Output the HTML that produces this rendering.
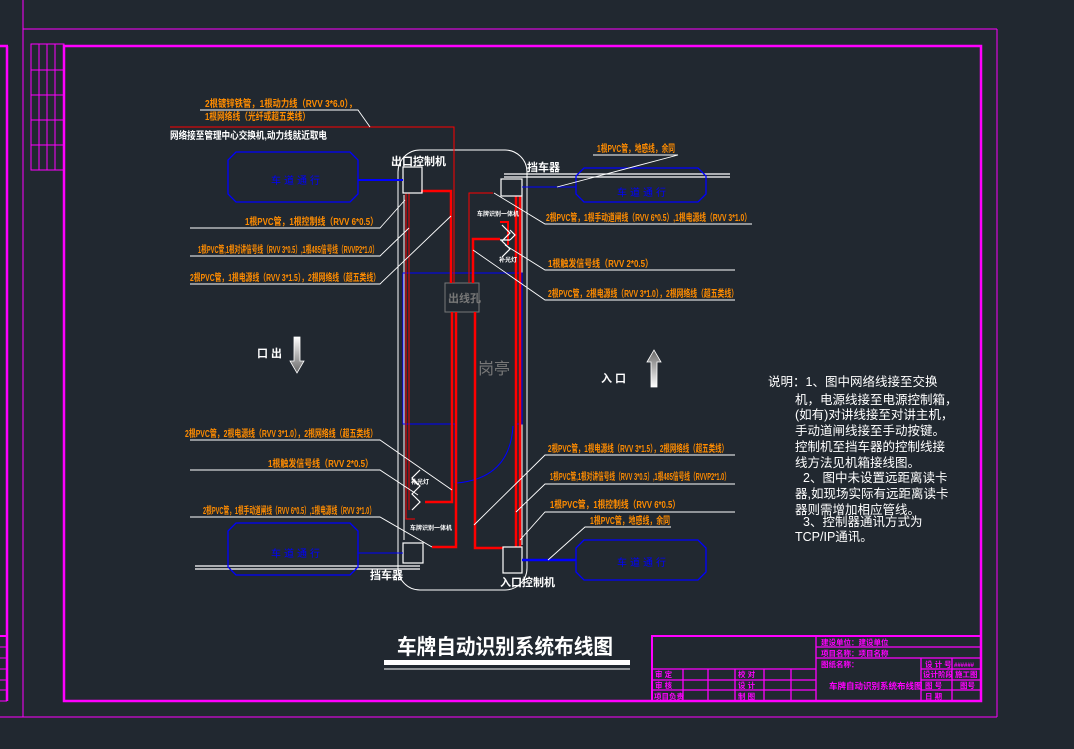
<!DOCTYPE html>
<html><head><meta charset="utf-8">
<style>
html,body{margin:0;padding:0;background:#212830;}
svg{display:block;}
text{font-family:"Liberation Sans","Noto Sans CJK SC","WenQuanYi Zen Hei",sans-serif;}
.o{fill:#ff8c00;font-size:10px;font-weight:bold;}
.w{fill:#fff;font-size:11px;font-weight:bold;}
.m{fill:#ff00ff;font-size:7.5px;font-weight:bold;}
.b{fill:#0000ff;font-size:10px;}
</style></head><body>
<svg width="1074" height="749" viewBox="0 0 1074 749" xmlns="http://www.w3.org/2000/svg">
<rect width="1074" height="749" fill="#212830"/>
<g stroke="#ff00ff" fill="none">
<line x1="0" y1="46" x2="8" y2="46" stroke-width="2.5"/>
<line x1="7" y1="46" x2="7" y2="701" stroke-width="2.5"/>
<g stroke-width="1"><line x1="0" y1="647" x2="7" y2="647"/><line x1="0" y1="658" x2="7" y2="658"/><line x1="0" y1="669" x2="7" y2="669"/><line x1="0" y1="680" x2="7" y2="680"/><line x1="0" y1="690" x2="7" y2="690"/><line x1="0" y1="701" x2="7" y2="701"/></g>
<line x1="0" y1="636" x2="7" y2="636" stroke-width="2"/>
<line x1="23" y1="0" x2="23" y2="717" stroke-width="1"/>
<line x1="0" y1="717" x2="997" y2="717" stroke-width="1"/>
<line x1="997" y1="29" x2="997" y2="717" stroke-width="1"/>
<line x1="23" y1="29" x2="997" y2="29" stroke-width="1"/>
<rect x="64" y="46" width="917" height="655" stroke-width="2.5"/>
<g stroke-width="1">
<rect x="31" y="44" width="33" height="126"/>
<line x1="39" y1="44" x2="39" y2="170"/><line x1="47" y1="44" x2="47" y2="170"/><line x1="55" y1="44" x2="55" y2="170"/>
<line x1="31" y1="70" x2="64" y2="70"/><line x1="31" y1="95" x2="64" y2="95"/><line x1="31" y1="120" x2="64" y2="120"/><line x1="31" y1="145" x2="64" y2="145"/>
</g>
<rect x="652" y="636" width="329" height="65" stroke-width="2"/>
<g stroke-width="1.3">
<line x1="816" y1="636" x2="816" y2="701"/>
<line x1="816" y1="647" x2="981" y2="647"/><line x1="816" y1="658" x2="981" y2="658"/>
<line x1="652" y1="669" x2="816" y2="669"/><line x1="652" y1="680" x2="816" y2="680"/><line x1="652" y1="690" x2="816" y2="690"/>
<line x1="683" y1="669" x2="683" y2="701"/><line x1="708" y1="669" x2="708" y2="701"/><line x1="735" y1="669" x2="735" y2="701"/><line x1="764" y1="669" x2="764" y2="701"/><line x1="791" y1="669" x2="791" y2="701"/>
<line x1="921" y1="658" x2="921" y2="701"/><line x1="952" y1="658" x2="952" y2="701"/>
<line x1="921" y1="669" x2="981" y2="669"/><line x1="921" y1="680" x2="981" y2="680"/><line x1="921" y1="690" x2="981" y2="690"/>
</g>
</g>
<g class="m">
<text x="821" y="645">建设单位：建设单位</text>
<text x="821" y="656">项目名称：项目名称</text>
<text x="821" y="667">图纸名称：</text>
<text x="829" y="689" style="font-size:8.5px">车牌自动识别系统布线图</text>
<text x="925" y="667">设 计 号</text><text x="954" y="667" style="font-size:6px">######</text>
<text x="923" y="677">设计阶段</text><text x="955" y="677">施工图</text>
<text x="925" y="688">图 号</text><text x="960" y="688">图号</text>
<text x="925" y="699">日 期</text>
<text x="655" y="677">审 定</text><text x="655" y="688">审 核</text><text x="654" y="699">项目负责</text>
<text x="738" y="677">校 对</text><text x="738" y="688">设 计</text><text x="738" y="699">制 图</text>
</g>

<g fill="none" stroke="#fff" stroke-width="1">
<rect x="398" y="150" width="129" height="440" rx="22"/>
<line x1="404" y1="195" x2="404" y2="540"/>
<line x1="522" y1="196" x2="522" y2="545"/>
</g>
<g fill="none" stroke="#0000ff" stroke-width="1">
<polyline points="455,424 403,424 403,273 522,273 522,424 515,424"/>
<line x1="455" y1="424" x2="455" y2="483"/>
<path d="M457,483 Q510,478 513,426"/>
</g>
<rect x="445" y="283" width="34" height="29" fill="none" stroke="#777" stroke-width="1"/>
<text x="448" y="302" fill="#777" font-size="11" font-weight="bold">出线孔</text>
<text x="478" y="374" fill="#777" font-size="16">岗亭</text>

<g fill="none" stroke="#ff0000">
<polyline points="170,127 454,127 454,283" stroke-width="1"/>
<polyline points="421,191 451,191 451,283" stroke-width="2.5"/>
<polyline points="452,312 452,502 425,502" stroke-width="2.5"/>
<polyline points="456,312 456,547 432,547" stroke-width="2.5"/>
<polyline points="406,193 406,519 415,519" stroke-width="1"/>
<polyline points="409,193 409,510" stroke-width="1"/>
<polyline points="469,283 469,193 493,193" stroke-width="1"/>
<polyline points="473,283 473,239 500,239" stroke-width="2.5"/>
<polyline points="475,312 475,548 503,548" stroke-width="2.5"/>
<polyline points="516,547 516,196" stroke-width="2.5"/>
<polyline points="520,547 520,196" stroke-width="2.5"/>
<polyline points="500,222 508,222 508,245" stroke-width="2"/>
</g>

<g fill="none" stroke="#fff" stroke-width="1.2">
<rect x="403" y="167" width="19" height="26"/>
<rect x="501" y="179" width="21" height="17"/>
<line x1="504" y1="174" x2="730" y2="174"/><line x1="504" y1="177" x2="730" y2="177"/>
<rect x="403" y="543" width="20" height="20"/>
<line x1="195" y1="566" x2="420" y2="566"/><line x1="195" y1="569" x2="420" y2="569"/>
<rect x="503" y="547" width="19" height="26"/>
<path d="M502,225 l8,8 l-8,8 l8,8 l-8,8 M510,230 l5,5 l-5,5 M500,240 l10,0"/>
<path d="M420,470 l-8,8 l8,8 l-8,8 l8,8 l-8,8 M413,480 l5,5"/>
</g>
<text x="527" y="171" class="w">挡车器</text>
<text x="370" y="579" class="w">挡车器</text>
<text x="391" y="165" class="w">出口控制机</text>
<text x="500" y="586" class="w">入口控制机</text>
<text x="477" y="216" fill="#fff" font-weight="bold" style="font-size:6px">车牌识别一体机</text>
<text x="499" y="262" fill="#fff" font-weight="bold" style="font-size:6px">补光灯</text>
<text x="411" y="484" fill="#fff" font-weight="bold" style="font-size:6px">补光灯</text>
<text x="410" y="530" fill="#fff" font-weight="bold" style="font-size:6px">车牌识别一体机</text>

<g fill="none" stroke="#0000ff" stroke-width="1.3">
<polygon points="236,152 350,152 358,160 358,194 350,202 236,202 228,194 228,160"/>
<polygon points="584,168 698,168 706,176 706,194 698,202 584,202 576,194 576,176"/>
<polygon points="236,523 350,523 358,531 358,567 350,575 236,575 228,567 228,531"/>
<polygon points="584,540 698,540 706,548 706,572 698,580 584,580 576,572 576,548"/>
<line x1="358" y1="180" x2="403" y2="180" stroke-width="2"/>
<line x1="522" y1="187" x2="576" y2="187" stroke-width="1"/>
<line x1="358" y1="553" x2="403" y2="553" stroke-width="1"/>
<line x1="522" y1="560" x2="576" y2="560" stroke-width="2.5"/>
</g>
<text x="271" y="184" class="b" letter-spacing="3">车道通行</text>
<text x="617" y="196" class="b" letter-spacing="3">车道通行</text>
<text x="271" y="557" class="b" letter-spacing="3">车道通行</text>
<text x="617" y="566" class="b" letter-spacing="3">车道通行</text>

<g fill="none" stroke="#fff" stroke-width="0.9">
<polyline points="200,110 358,110 370,127"/>
<polyline points="190,228 380,228 405,200"/>
<polyline points="190,256 380,256 409,228"/>
<polyline points="190,284 380,284 451,216"/>
<polyline points="593,155 678,155 557,187"/>
<polyline points="752,224 545,224 494,193"/>
<polyline points="735,270 545,270 505,245"/>
<polyline points="735,300 545,300 473,250"/>
<polyline points="190,440 380,440 452,490"/>
<polyline points="190,470 380,470 418,495"/>
<polyline points="190,517 380,517 432,547"/>
<polyline points="735,455 545,455 474,525"/>
<polyline points="735,484 545,484 516,512"/>
<polyline points="735,512 545,512 520,540"/>
<polyline points="671,527 585,527 548,560"/>
</g>

<g class="o">
<text x="205" y="107" textLength="152" lengthAdjust="spacingAndGlyphs">2根镀锌铁管，1根动力线（RVV 3*6.0），</text>
<text x="205" y="120" textLength="105" lengthAdjust="spacingAndGlyphs">1根网络线（光纤或超五类线）</text>
<text x="245" y="225" textLength="133" lengthAdjust="spacingAndGlyphs">1根PVC管，1根控制线（RVV 6*0.5）</text>
<text x="198" y="253" textLength="180" lengthAdjust="spacingAndGlyphs">1根PVC管,1根对讲信号线（RVV 3*0.5）,1根485信号线（RVVP2*1.0）</text>
<text x="190" y="281" textLength="190" lengthAdjust="spacingAndGlyphs">2根PVC管，1根电源线（RVV 3*1.5），2根网络线（超五类线）</text>
<text x="597" y="152" textLength="78" lengthAdjust="spacingAndGlyphs">1根PVC管，地感线，余同</text>
<text x="546" y="221" textLength="205" lengthAdjust="spacingAndGlyphs">2根PVC管，1根手动道闸线（RVV 6*0.5）,1根电源线（RVV 3*1.0）</text>
<text x="548" y="267" textLength="105" lengthAdjust="spacingAndGlyphs">1根触发信号线（RVV 2*0.5）</text>
<text x="548" y="297" textLength="190" lengthAdjust="spacingAndGlyphs">2根PVC管，2根电源线（RVV 3*1.0），2根网络线（超五类线）</text>
<text x="185" y="437" textLength="192" lengthAdjust="spacingAndGlyphs">2根PVC管，2根电源线（RVV 3*1.0），2根网络线（超五类线）</text>
<text x="268" y="467" textLength="105" lengthAdjust="spacingAndGlyphs">1根触发信号线（RVV 2*0.5）</text>
<text x="203" y="514" textLength="172" lengthAdjust="spacingAndGlyphs">2根PVC管，1根手动道闸线（RVV 6*0.5）,1根电源线（RVV 3*1.0）</text>
<text x="548" y="452" textLength="180" lengthAdjust="spacingAndGlyphs">2根PVC管，1根电源线（RVV 3*1.5），2根网络线（超五类线）</text>
<text x="550" y="480" textLength="180" lengthAdjust="spacingAndGlyphs">1根PVC管,1根对讲信号线（RVV 3*0.5）,1根485信号线（RVVP2*1.0）</text>
<text x="550" y="508" textLength="130" lengthAdjust="spacingAndGlyphs">1根PVC管，1根控制线（RVV 6*0.5）</text>
<text x="590" y="524" textLength="80" lengthAdjust="spacingAndGlyphs">1根PVC管，地感线，余同</text>
</g>
<text x="170" y="139" class="w" style="font-size:10px" textLength="157" lengthAdjust="spacingAndGlyphs">网络接至管理中心交换机,动力线就近取电</text>

<text x="257" y="357" class="w">口 出</text>
<defs><linearGradient id="g1" x1="0" y1="0" x2="0" y2="1"><stop offset="0" stop-color="#fff"/><stop offset="1" stop-color="#666"/></linearGradient>
<linearGradient id="g2" x1="0" y1="1" x2="0" y2="0"><stop offset="0" stop-color="#fff"/><stop offset="1" stop-color="#666"/></linearGradient></defs>
<polygon points="294,337 300,337 300,361 304,361 297,373 290,361 294,361" fill="url(#g1)" stroke="#fff" stroke-width="0.8"/>
<text x="601" y="382" class="w">入  口</text>
<polygon points="651,387 657,387 657,362 661,362 654,350 647,362 651,362" fill="url(#g2)" stroke="#fff" stroke-width="0.8"/>

<g fill="#fff" font-size="12.5">
<text x="768" y="386">说明：1、图中网络线接至交换</text>
<text x="795" y="404">机，电源线接至电源控制箱，</text>
<text x="795" y="419">(如有)对讲线接至对讲主机，</text>
<text x="795" y="435">手动道闸线接至手动按键。</text>
<text x="795" y="451">控制机至挡车器的控制线接</text>
<text x="795" y="467">线方法见机箱接线图。</text>
<text x="803" y="482">2、图中未设置远距离读卡</text>
<text x="795" y="498">器,如现场实际有远距离读卡</text>
<text x="795" y="514">器则需增加相应管线。</text>
<text x="803" y="526">3、控制器通讯方式为</text>
<text x="795" y="541">TCP/IP通讯。</text>
</g>

<text x="397" y="654" fill="#fff" font-size="21" font-weight="bold" textLength="216" lengthAdjust="spacingAndGlyphs">车牌自动识别系统布线图</text>
<rect x="384" y="660" width="246" height="5" fill="#fff"/>
<line x1="384" y1="669" x2="630" y2="669" stroke="#fff" stroke-width="1"/>
</svg>
</body></html>
